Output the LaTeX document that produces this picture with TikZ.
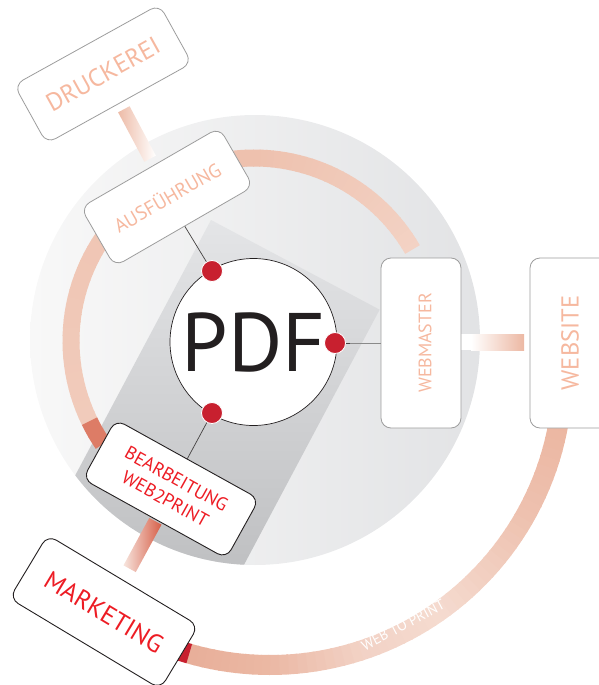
\documentclass[tikz,border=0pt]{standalone}
\usepackage{fontspec}
\setmainfont{PT Sans}
\usetikzlibrary{calc}
\definecolor{salm}{HTML}{F6B89F}
\definecolor{redtxt}{HTML}{ED1C24}
\definecolor{dotred}{HTML}{C8202F}
\definecolor{boxgrey}{HTML}{9D9D9D}
\definecolor{ink}{HTML}{231F20}
\definecolor{circL}{HTML}{F8F8F8}
\definecolor{circR}{HTML}{E2E3E5}
\definecolor{rectT}{HTML}{E4E5E7}
\definecolor{rectB}{HTML}{B3B4B6}
\definecolor{ringA}{HTML}{F3D2C4}
\definecolor{ringB}{HTML}{EEC1AE}
\definecolor{ringC}{HTML}{F1CBBB}
\definecolor{ringD}{HTML}{DD7C66}
\definecolor{oA}{HTML}{EBB39D}
\definecolor{oB}{HTML}{EEC2B0}
\definecolor{oC}{HTML}{F5DBD0}
\definecolor{oD}{HTML}{F2D2C5}
\definecolor{oE}{HTML}{EBB8A4}
\definecolor{oF}{HTML}{E8AF99}
\definecolor{bandS}{HTML}{EDBBA7}
\definecolor{bandMt}{HTML}{F7E5DE}
\definecolor{bandMb}{HTML}{D65F48}
\definecolor{bandW}{HTML}{ECB8A3}
\definecolor{linegrey}{HTML}{8A8A8A}
% arc with colour gradient: cx, cy, r, width, phi1, phi2 (visual degrees), colA, colB, steps
\newcommand{\arcgrad}[9]{%
  \foreach \k in {1,...,#9}{%
    \pgfmathsetmacro{\tS}{-(#5+(#6-#5)*(\k-1)/#9)}%
    \pgfmathsetmacro{\tE}{-(#5+(#6-#5)*\k/#9)-0.3*sign(#6-#5)}%
    \pgfmathsetmacro{\pc}{100*(\k-0.5)/#9}%
    \colorlet{segc}{#8!\pc!#7}%
    \draw[line width=#4pt, draw=segc] ($(#1,#2)+(\tS:#3)$) arc[start angle=\tS, end angle=\tE, radius=#3];
  }%
}
\tikzset{
  gbox/.style={rectangle, rounded corners=10pt, draw=boxgrey, line width=0.8pt, fill=white, text=salm, inner sep=0pt, align=center},
  kbox/.style={rectangle, rounded corners=10pt, draw=ink, line width=0.9pt, fill=white, text=redtxt, inner sep=0pt, align=center},
  reddot/.style={circle, fill=dotred, draw=white, line width=0.8pt, minimum size=21pt, inner sep=0pt},
  thinline/.style={draw=ink!85, line width=0.7pt},
}
\begin{document}
\begin{tikzpicture}[x=1pt, y=-1pt]
\clip (0,0) rectangle (599,685);
% big background circle
\shade[left color=circL, right color=circR] (255,340) circle[radius=225];
% grey rotated panel
\begin{scope}
  \clip (255,340) circle[radius=225];
  \begin{scope}[shift={(211,220)}, rotate=-28]
    \shade[top color=rectT, bottom color=rectB] (0,0) rectangle (191,420);
  \end{scope}
\end{scope}
% inner ring
\arcgrad{254}{341}{183}{17}{30}{90}{ringA}{ringB}{30}
\arcgrad{254}{341}{183}{17}{90}{206}{ringB}{ringC}{50}
\arcgrad{254}{341}{183}{17}{206}{214}{ringD}{ringD}{2}
% outer arc
\arcgrad{270}{372}{293}{20}{-4}{-30}{oA}{oB}{14}
\arcgrad{270}{372}{293}{20}{-30}{-55}{oB}{oC}{14}
\arcgrad{270}{372}{293}{20}{-55}{-72}{oC}{oD}{10}
\arcgrad{270}{372}{293}{20}{-72}{-90}{oD}{oE}{10}
\arcgrad{270}{372}{293}{20}{-90}{-106}{oE}{oF}{10}
\arcgrad{270}{372}{293}{20}{-106}{-111}{dotred}{dotred}{2}
\node[text=white, rotate=28, font=\fontsize{14.5}{16}\selectfont] (w2p) at (403,625) {WEB TO PRINT};
% connector bands
\begin{scope}[shift={(137,134)}, rotate=-62]
  \shade[left color=bandS, right color=white] (-28,-6.5) rectangle (28,6.5);
\end{scope}
\begin{scope}[shift={(142.5,545)}, rotate=-118.5]
  \shade[left color=bandMt, right color=bandMb] (-27,-7) rectangle (27,7);
\end{scope}
\fill[white] (461,334) rectangle (472,350);
\shade[left color=white, right color=bandW] (471,334) rectangle (524,350);
% boxes
\node[gbox, rotate=29, minimum width=166pt, minimum height=67pt, font=\fontsize{25}{28}\selectfont] (dru) at (103,74) {DRUCKEREI};
\node[gbox, rotate=30, minimum width=160pt, minimum height=68pt, font=\fontsize{19.5}{22}\selectfont] (aus) at (167,197) {AUSFÜHRUNG};
\node[gbox, rotate=90, minimum width=170pt, minimum height=80pt, text height=20.6pt, text depth=0pt, font=\fontsize{18}{20}\selectfont] (wm) at (421,343) {WEBMASTER};
\node[gbox, rotate=90, minimum width=170pt, minimum height=80pt, font=\fontsize{24.5}{27}\selectfont] (ws) at (570,343) {WEBSITE};
\node[kbox, rotate=-29, minimum width=164pt, minimum height=68pt, font=\fontsize{18.5}{23}\selectfont] (bea) at (171,489) {BEARBEITUNG\\WEB2PRINT};
\node[kbox, rotate=-31, minimum width=176pt, minimum height=74pt, font=\fontsize{25.5}{28}\selectfont] (mkt) at (104,612) {MARKETING};
% PDF circle
\node[circle, draw=ink, line width=0.7pt, fill=white, minimum size=167pt, inner sep=0pt, text=ink, font=\fontsize{83}{90}\selectfont] (pdf) at (253.5,342) {PDF};
\coordinate (pT) at (212,271);
\coordinate (pB) at (212,413);
\coordinate (pR) at (335,343);
\draw[thinline] (pT) -- (aus);
\draw[thinline] (pB) -- (bea);
\draw[draw=linegrey, line width=0.7pt] (pR) -- (wm);
\draw[thinline] (pR) -- ++(15,0);
\node[reddot] (dotT) at (pT) {};
\node[reddot] (dotB) at (pB) {};
\node[reddot] (dotR) at (pR) {};
\end{tikzpicture}
\end{document}
